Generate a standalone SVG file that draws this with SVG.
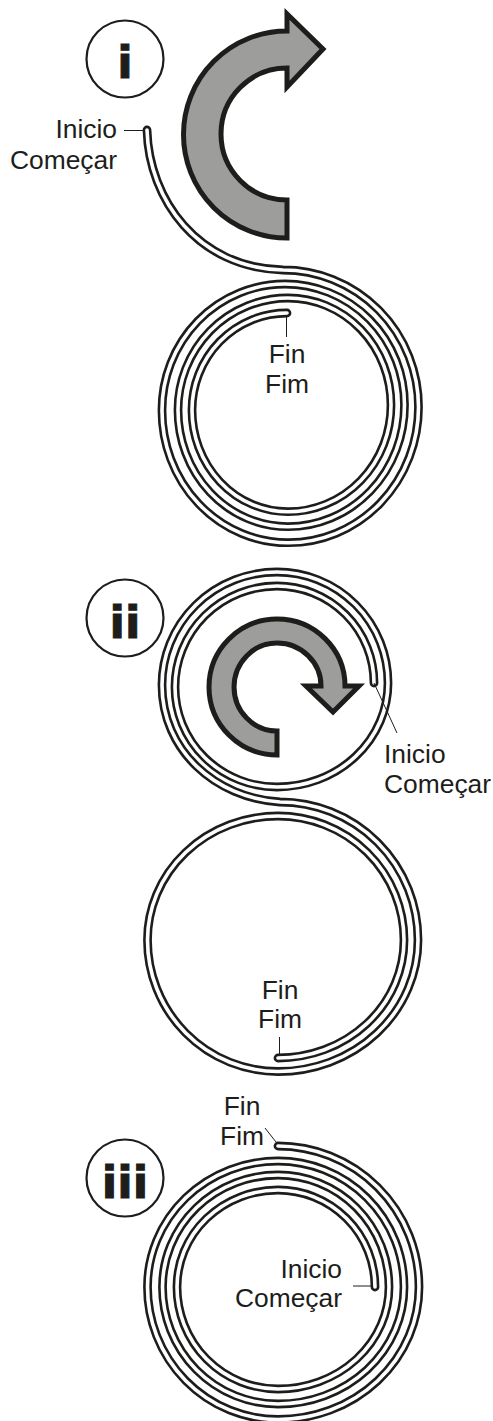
<svg xmlns="http://www.w3.org/2000/svg" xmlns:xlink="http://www.w3.org/1999/xlink" width="493" height="1421" viewBox="0 0 493 1421">
<style>
.t{font-family:"Liberation Sans",Arial,sans-serif;font-size:26.400px;fill:#1d1d1b}
.b{font-family:"DejaVu Sans",sans-serif;font-weight:700;font-size:45px;fill:#1d1d1b;stroke:#1d1d1b;stroke-width:1;text-anchor:middle}
.c{fill:#fff;stroke:#1d1d1b;stroke-width:2.2}
.a{fill:#9d9d9c;stroke:#1d1d1b;stroke-width:5;stroke-miterlimit:10}
.o{fill:none;stroke:#1d1d1b;stroke-width:8.800;stroke-linecap:round}
.w{fill:none;stroke:#fff;stroke-width:3.600;stroke-linecap:round}
.l{fill:none;stroke:#1d1d1b;stroke-width:1}
.e{text-anchor:end}.m{text-anchor:middle}
</style>
<defs>
<path id="p1" d="M147 130C149 200 198 268 283 270A135.500 137 0 0 1 418.500 407A130 135.700 0 0 1 288 542.700A126 132 0 0 1 162 410A123 126 0 0 1 285 284A119.500 121 0 0 1 404.500 405A116.500 121.700 0 0 1 288 526.700A110 116.700 0 0 1 178 410A110 112 0 0 1 288 298A103 107 0 0 1 391 405A103 106.700 0 0 1 288 511.700A96 101.700 0 0 1 192 410A95 97 0 0 1 287 313"/>
<path id="p2" d="M374 683A97 97 0 0 0 277 586A102 101 0 0 0 175 687A102 100 0 0 0 277 787A111 104 0 0 0 388 683A111 111 0 0 0 277 572A115 113 0 0 0 162 685C162 750 215 798 280 802A138 138 0 0 1 418 940A140 131.500 0 0 1 278 1071.500A130.500 131.500 0 0 1 147.500 940A130.500 124 0 0 1 278 816A126 124 0 0 1 404 940A126 118 0 0 1 278 1058"/>
<path id="p3" d="M278 1146A141 141 0 0 1 419 1287A141 132.500 0 0 1 278 1419.500A130.500 132.500 0 0 1 147.500 1287A130.500 126 0 0 1 278 1161A126 126 0 0 1 404 1287A126 117 0 0 1 278 1404A115.500 117 0 0 1 162.500 1287A115.500 112 0 0 1 278 1175A111 112 0 0 1 389 1287A111 102 0 0 1 278 1389A101 102 0 0 1 177 1287A101 97 0 0 1 278 1190A97 97 0 0 1 375 1287"/>
</defs>
<g id="step-i">
<circle class="c" cx="125" cy="59" r="38.500"/>
<text class="b" x="125" y="77.500">i</text>
<path class="a" d="M323 49L287 14V31A103.500 103.500 0 0 0 287 238V200A66 66 0 0 1 287 68V87Z"/>
<use xlink:href="#p1" class="o"/><use xlink:href="#p1" class="w"/>
<text class="t e" x="117" y="138">Inicio</text>
<text class="t e" x="117" y="169">Começar</text>
<text class="t m" x="287" y="363">Fin</text>
<text class="t m" x="287" y="393">Fim</text>
</g>
<g id="step-ii">
<circle class="c" cx="125" cy="618" r="38.500"/>
<text class="b" x="125" y="637.500">ii</text>
<use xlink:href="#p2" class="o"/><use xlink:href="#p2" class="w"/>
<path class="a" d="M277 755A68 68 0 0 1 277 619A68 67 0 0 1 345 686H359L333 712L306 686H321A44 43 0 0 0 277 643A43 44 0 0 0 277 731Z"/>
<text class="t" x="384" y="763">Inicio</text>
<text class="t" x="384" y="793">Começar</text>
<text class="t m" x="280" y="999">Fin</text>
<text class="t m" x="280" y="1028">Fim</text>
</g>
<g id="step-iii">
<circle class="c" cx="125" cy="1178" r="38.500"/>
<text class="b" x="125" y="1197.500">iii</text>
<use xlink:href="#p3" class="o"/><use xlink:href="#p3" class="w"/>
<text class="t m" x="242" y="1115">Fin</text>
<text class="t m" x="242" y="1145">Fim</text>
<text class="t e" x="342" y="1278">Inicio</text>
<text class="t e" x="342" y="1307">Começar</text>
</g>
<g id="connectors">
<path class="l" d="M124 130.500H143"/>
<path class="l" d="M286.500 316V337"/>
<path class="l" d="M374 683L397 733"/>
<path class="l" d="M279.500 1037V1055"/>
<path class="l" d="M265 1128L276 1142"/>
<path class="l" d="M353 1286H371"/>
</g>
</svg>
